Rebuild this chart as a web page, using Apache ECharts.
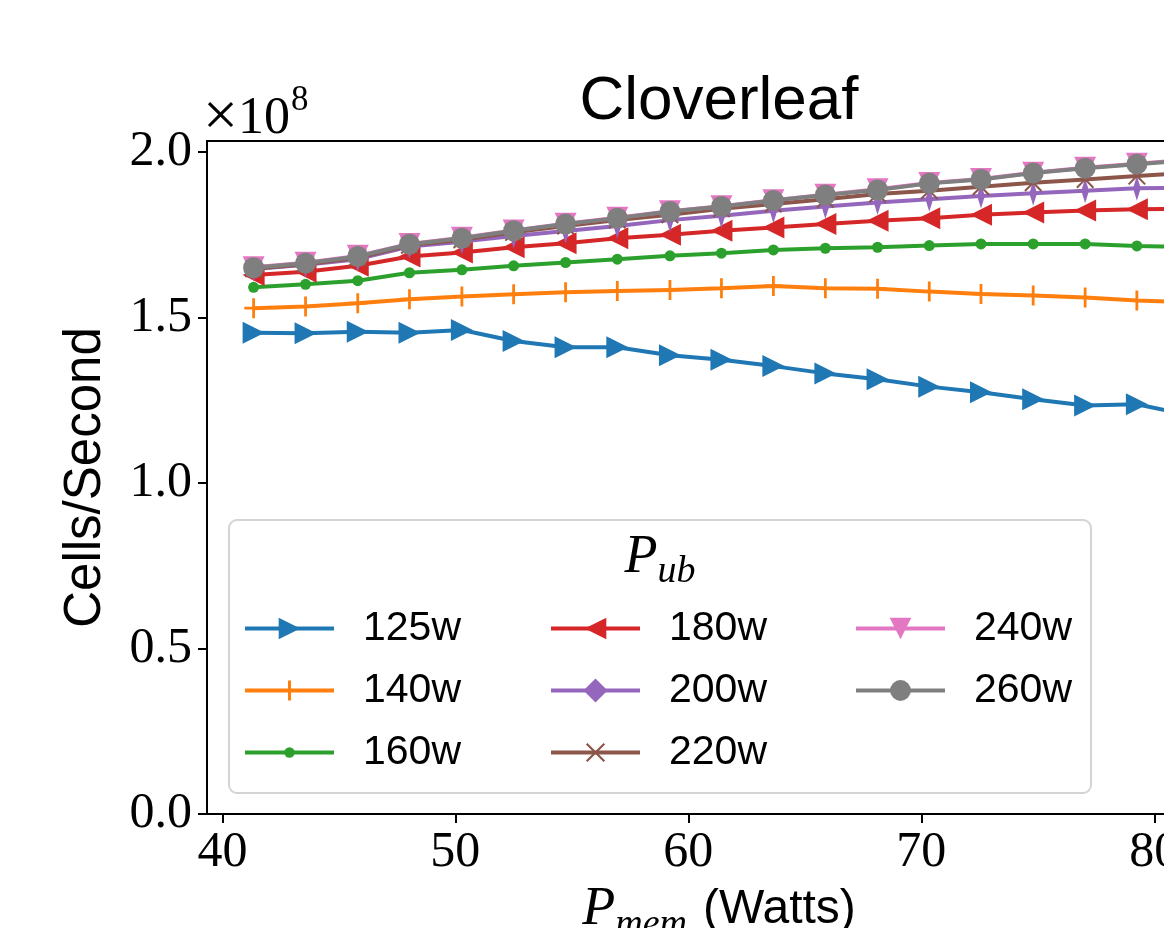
<!DOCTYPE html>
<html>
<head>
<meta charset="utf-8">
<script src="https://cdn.jsdelivr.net/npm/echarts@6/dist/echarts.min.js"></script>
<style>
html,body{margin:0;padding:0;overflow:hidden;background:#fff;width:1164px;height:928px;}
#c{width:1438px;height:928px;}
</style>
</head>
<body>
<div id="c"></div>
<script>
// ---- data (Cells/Second in units of 1e8) ----
const pmem = [41.34, 43.57, 45.81, 48.03, 50.28, 52.50, 54.73, 56.95, 59.21, 61.42, 63.65, 65.88, 68.12, 70.34, 72.56, 74.80, 77.03, 79.25, 81.48];
const p125 = [1.454, 1.452, 1.457, 1.454, 1.462, 1.429, 1.410, 1.410, 1.386, 1.372, 1.353, 1.331, 1.313, 1.291, 1.274, 1.253, 1.234, 1.238, 1.205];
const p140 = [1.528, 1.533, 1.543, 1.555, 1.563, 1.570, 1.576, 1.580, 1.583, 1.588, 1.595, 1.588, 1.587, 1.578, 1.571, 1.566, 1.560, 1.551, 1.546];
const p160 = [1.591, 1.600, 1.611, 1.635, 1.644, 1.656, 1.666, 1.676, 1.686, 1.694, 1.704, 1.709, 1.712, 1.717, 1.722, 1.722, 1.722, 1.716, 1.713];
const p180 = [1.628, 1.638, 1.656, 1.684, 1.696, 1.712, 1.724, 1.739, 1.750, 1.762, 1.772, 1.782, 1.792, 1.800, 1.810, 1.817, 1.823, 1.827, 1.828];
const p200 = [1.646, 1.659, 1.676, 1.714, 1.729, 1.746, 1.761, 1.776, 1.794, 1.807, 1.822, 1.835, 1.847, 1.857, 1.867, 1.875, 1.883, 1.890, 1.892];
const p220 = [1.647, 1.661, 1.680, 1.718, 1.735, 1.757, 1.776, 1.794, 1.810, 1.828, 1.843, 1.857, 1.873, 1.883, 1.895, 1.907, 1.917, 1.927, 1.937];
const p240 = [1.652, 1.665, 1.686, 1.722, 1.741, 1.763, 1.783, 1.801, 1.821, 1.836, 1.854, 1.871, 1.887, 1.906, 1.918, 1.937, 1.952, 1.964, 1.976];
const p260 = [1.650, 1.664, 1.684, 1.721, 1.739, 1.762, 1.782, 1.800, 1.820, 1.835, 1.853, 1.870, 1.885, 1.905, 1.917, 1.936, 1.951, 1.963, 1.975];
const seriesNames = ['125w', '140w', '160w', '180w', '200w', '220w', '240w', '260w'];
const seriesValues = [p125, p140, p160, p180, p200, p220, p240, p260];
const xTicks = [40, 50, 60, 70, 80];
const yTicks = [0.0, 0.5, 1.0, 1.5, 2.0];

// ---- styles ----
const colors = ['#1f77b4', '#ff7f0e', '#2ca02c', '#d62728', '#9467bd', '#8c564b', '#e377c2', '#7f7f7f'];
const PLUS = 'path://M0,7.4 L16,7.4 L16,9.8 L0,9.8 Z M6.8,0 L9.2,0 L9.2,17.2 L6.8,17.2 Z';
const XMARK = 'path://M0,1.3 L1.3,0 L8,6.7 L14.7,0 L16,1.3 L9.3,8 L16,14.7 L14.7,16 L8,9.3 L1.3,16 L0,14.7 L6.7,8 Z';
const DIAM = 'path://M6,0 L12,11 L6,22 L0,11 Z';
const markers = [
  {symbol: 'triangle', size: 22, rotate: -90, legendH: 27},
  {symbol: PLUS, size: 20, rotate: 0, legendH: 25},
  {symbol: 'circle', size: 11, rotate: 0, legendH: 13},
  {symbol: 'triangle', size: 22, rotate: 90, legendH: 27},
  {symbol: DIAM, size: [14, 25], rotate: 0, legendH: 30},
  {symbol: XMARK, size: 18, rotate: 0, legendH: 24},
  {symbol: 'triangle', size: 22, rotate: 180, legendH: 27},
  {symbol: 'circle', size: 21, rotate: 0, legendH: 26}
];

const series = seriesNames.map((name, i) => ({
  name: name,
  type: 'line',
  data: pmem.map((x, k) => [x, seriesValues[i][k]]),
  symbol: markers[i].symbol,
  symbolSize: markers[i].size,
  symbolRotate: markers[i].rotate,
  symbolKeepAspect: true,
  showSymbol: true,
  lineStyle: {color: colors[i], width: 4},
  itemStyle: {color: colors[i], borderWidth: 0},
  color: colors[i],
  emphasis: {disabled: true},
  z: 2 + i * 0.01
}));

// legend: matplotlib ncol=3 (column-major)
const colLeft = [243, 549, 854];
const rowCenter = [628, 690, 752];
const legends = seriesNames.map((name, i) => {
  const col = Math.floor(i / 3), row = i % 3;
  return {
    data: [name],
    left: colLeft[col],
    top: rowCenter[row] - 20,
    orient: 'vertical',
    padding: 0,
    itemWidth: 89,
    itemHeight: markers[i].legendH,
    symbolKeepAspect: true,
    selectedMode: false,
    lineStyle: {width: 4},
    textStyle: {fontFamily: 'Liberation Sans', fontSize: 41, color: '#000', lineHeight: 40, padding: [0, 0, 0, 24]},
    z: 20
  };
});

const chart = echarts.init(document.getElementById('c'), null, {renderer: 'canvas'});
chart.setOption({
  animation: false,
  backgroundColor: '#fff',
  title: {
    text: 'Cloverleaf', left: 'center', top: 66,
    textStyle: {fontFamily: 'Liberation Sans', fontSize: 62, fontWeight: 'normal', color: '#000'}
  },
  grid: {left: 207, right: 207, top: 141, bottom: 114, outerBoundsMode: 'none', containLabel: false,
    show: true, borderColor: '#000', borderWidth: 2, backgroundColor: 'transparent'},
  xAxis: {
    type: 'value', min: 39.34, max: 83.29,
    splitLine: {show: false},
    axisLine: {onZero: false, lineStyle: {color: '#000', width: 2}},
    axisTick: {show: true, length: 9, lineStyle: {color: '#000', width: 2}, customValues: xTicks},
    axisLabel: {customValues: xTicks, fontFamily: 'Liberation Serif', fontSize: 50, color: '#000', margin: 14},
    name: '{p|P}{s|mem}{w|(Watts)}',
    nameLocation: 'middle', nameGap: 52,
    nameTextStyle: {
      rich: {
        p: {fontFamily: 'Liberation Serif', fontStyle: 'italic', fontSize: 54, color: '#000'},
        s: {fontFamily: 'Liberation Serif', fontStyle: 'italic', fontSize: 38, color: '#000', padding: [30, 0, 0, 0]},
        w: {fontFamily: 'Liberation Sans', fontSize: 48, color: '#000', padding: [0, 0, 0, 16]}
      }
    }
  },
  yAxis: {
    type: 'value', min: 0, max: 2.033,
    splitLine: {show: false},
    axisLine: {lineStyle: {color: '#000', width: 2}},
    axisTick: {show: true, length: 9, lineStyle: {color: '#000', width: 2}, customValues: yTicks},
    axisLabel: {customValues: yTicks, fontFamily: 'Liberation Serif', fontSize: 50, color: '#000', margin: 15,
      formatter: v => Number(v).toFixed(1)},
    name: 'Cells/Second', nameLocation: 'middle', nameGap: 96,
    nameTextStyle: {fontFamily: 'Liberation Sans', fontSize: 51, color: '#000'}
  },
  legend: legends,
  graphic: [
    {type: 'rect', z: 10, shape: {x: 229, y: 520, width: 862, height: 273, r: 8},
      style: {fill: 'rgba(255,255,255,0.8)', stroke: '#d4d4d4', lineWidth: 2}},
    {type: 'text', z: 11, x: 660, y: 558,
      style: {text: '{p|P}{s|ub}', align: 'center', verticalAlign: 'middle',
        rich: {
          p: {fontFamily: 'Liberation Serif', fontStyle: 'italic', fontSize: 54, fill: '#000'},
          s: {fontFamily: 'Liberation Serif', fontStyle: 'italic', fontSize: 38, fill: '#000', padding: [28, 0, 0, 0]}
        }}},
    {type: 'text', z: 11, x: 203, y: 119,
      style: {text: '{x|×}{a|10}{b|8}', align: 'left', verticalAlign: 'middle',
        rich: {
          x: {fontFamily: 'Liberation Serif', fontSize: 62, fill: '#000'},
          a: {fontFamily: 'Liberation Serif', fontSize: 52, fill: '#000'},
          b: {fontFamily: 'Liberation Serif', fontSize: 35, fill: '#000', padding: [0, 0, 36, 1]}
        }}}
  ],
  series: series
});
</script>
</body>
</html>
